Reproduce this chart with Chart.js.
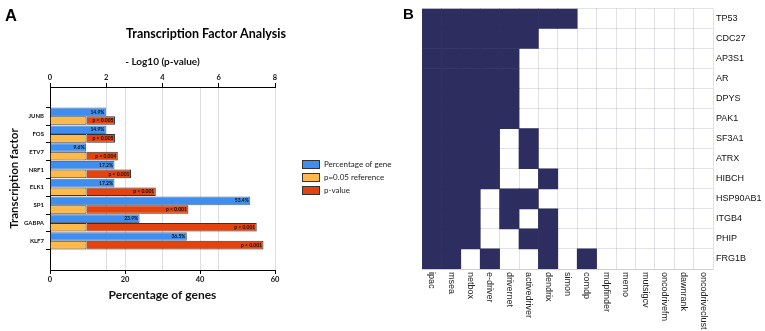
<!DOCTYPE html>
<html>
<head>
<meta charset="utf-8">
<script src="https://cdn.jsdelivr.net/npm/chart.js@4.4.1/dist/chart.umd.min.js"></script>
<style>
  body { margin: 0; background: #fff; }
  #wrap { position: relative; width: 765px; height: 331px; overflow: hidden; }
  canvas { position: absolute; top: 0; }
  #chartA { left: 0; }
  #chartB { left: 400px; }
</style>
</head>
<body>
<div id="wrap">
  <canvas id="chartA" width="400" height="331"></canvas>
  <canvas id="chartB" width="365" height="331"></canvas>
</div>
<script>
// Panel A data
const factors = ['JUNB', 'FOS', 'ETV7', 'NRF1', 'ELK1', 'SP1', 'GABPA', 'KLF7'];
const pctGenes = [14.9, 14.9, 9.6, 17.2, 17.2, 53.4, 23.9, 36.5];
const logP = [2.31, 2.31, 2.41, 2.88, 3.76, 4.92, 7.35, 7.59];
const pLabels = ['p = 0.005', 'p = 0.005', 'p = 0.004', 'p = 0.001', 'p < 0.001', 'p < 0.001', 'p < 0.001', 'p < 0.001'];
const refLogP = 1.30;
const legendNames = ['Percentage of gene', 'p=0.05 reference', 'p-value'];

// Panel B data
const tools = ['ipac', 'msea', 'netbox', 'e-driver', 'drivernet', 'activedriver', 'dendrix', 'simon',
  'comdp', 'mdpfinder', 'memo', 'mutsigcv', 'oncodrivefm', 'dawnrank', 'oncodriveclust'];
const genes = ['TP53', 'CDC27', 'AP3S1', 'AR', 'DPYS', 'PAK1', 'SF3A1', 'ATRX', 'HIBCH', 'HSP90AB1', 'ITGB4', 'PHIP', 'FRG1B'];
const hits = [
  [1,1,1,1,1,1,1,1,0,0,0,0,0,0,0],
  [1,1,1,1,1,1,0,0,0,0,0,0,0,0,0],
  [1,1,1,1,1,0,0,0,0,0,0,0,0,0,0],
  [1,1,1,1,1,0,0,0,0,0,0,0,0,0,0],
  [1,1,1,1,1,0,0,0,0,0,0,0,0,0,0],
  [1,1,1,1,1,0,0,0,0,0,0,0,0,0,0],
  [1,1,1,1,0,1,0,0,0,0,0,0,0,0,0],
  [1,1,1,1,0,1,0,0,0,0,0,0,0,0,0],
  [1,1,1,1,0,0,1,0,0,0,0,0,0,0,0],
  [1,1,1,0,1,1,0,0,0,0,0,0,0,0,0],
  [1,1,1,0,1,0,1,0,0,0,0,0,0,0,0],
  [1,1,1,0,0,1,1,0,0,0,0,0,0,0,0],
  [1,1,0,1,0,0,1,0,1,0,0,0,0,0,0]
];

const BLUE = '#3d8ef0', ORANGE = '#fdb94a', RED = '#e5430d', NAVY = '#2d2e5f';
const GRID = '#dedede';
const SANS = 'Lato';

Chart.defaults.font.family = SANS;
Chart.defaults.color = '#111';

// bar end labels, panel letter, title and legend for panel A
const decorA = {
  id: 'decorA',
  afterDatasetsDraw(chart) {
    const ctx = chart.ctx;
    ctx.save();
    ctx.font = 'bold 5px ' + SANS;
    ctx.fillStyle = '#111';
    ctx.textAlign = 'right';
    ctx.textBaseline = 'middle';
    chart.getDatasetMeta(0).data.forEach((bar, i) => ctx.fillText(pctGenes[i].toFixed(1) + '%', bar.x - 1.5, bar.y));
    chart.getDatasetMeta(2).data.forEach((bar, i) => ctx.fillText(pLabels[i], bar.x - 1.5, bar.y));
    ctx.restore();
  },
  afterDraw(chart) {
    const ctx = chart.ctx;
    ctx.save();
    ctx.fillStyle = '#000';
    ctx.textBaseline = 'alphabetic';
    ctx.font = 'bold 16.5px "Liberation Sans"';
    ctx.fillText('A', 5, 21);
    ctx.textAlign = 'center';
    ctx.textBaseline = 'middle';
    ctx.font = 'bold 12.5px ' + SANS;
    ctx.fillText('Transcription Factor Analysis', 206, 34);
    // legend
    const colors = [BLUE, ORANGE, RED];
    ctx.textAlign = 'left';
    ctx.font = '8px ' + SANS;
    legendNames.forEach((name, i) => {
      const y = 164.5 + i * 13;
      ctx.fillStyle = colors[i];
      ctx.fillRect(302.5, y - 4, 17, 8);
      ctx.strokeStyle = '#333';
      ctx.lineWidth = 1;
      ctx.strokeRect(302.5, y - 4, 17, 8);
      ctx.fillStyle = '#222';
      ctx.fillText(name, 324, y);
    });
    ctx.restore();
  }
};

new Chart(document.getElementById('chartA'), {
  type: 'bar',
  data: {
    datasets: [
      {
        label: legendNames[0],
        data: pctGenes.map((v, i) => ({ x: v, y: i })),
        xAxisID: 'x', stack: 'pct',
        backgroundColor: BLUE, borderColor: '#5a6f8a', borderWidth: 1
      },
      {
        label: legendNames[1],
        data: factors.map((f, i) => ({ x: refLogP, y: i })),
        xAxisID: 'x2', stack: 'p',
        backgroundColor: ORANGE, borderColor: '#333', borderWidth: 1
      },
      {
        label: legendNames[2],
        data: logP.map((v, i) => ({ x: [refLogP, v], y: i })),
        xAxisID: 'x2', stack: 'p',
        backgroundColor: RED, borderColor: '#333', borderWidth: 1
      }
    ]
  },
  options: {
    indexAxis: 'y',
    responsive: false,
    animation: false,
    layout: { padding: { left: 0, right: 125, top: 0, bottom: 0 } },
    categoryPercentage: 0.97,
    barPercentage: 1,
    plugins: { legend: { display: false }, tooltip: { enabled: false } },
    scales: {
      y: {
        type: 'linear', min: -1, max: 8, reverse: true, stacked: true,
        afterBuildTicks: s => { s.ticks = s.ticks.filter(t => t.value >= 0 && t.value <= 7); },
        afterFit: s => { s.width = 50; },
        ticks: { stepSize: 1, padding: 2, font: { size: 6, weight: 'bold' }, callback: v => factors[v] },
        grid: { drawOnChartArea: false, tickLength: 4, tickColor: '#000' },
        border: { color: '#000' },
        title: { display: true, text: 'Transcription factor', font: { size: 11.5, weight: 'bold' }, padding: { top: 7 } }
      },
      x: {
        type: 'linear', position: 'bottom', min: 0, max: 60, stacked: false,
        afterFit: s => { s.height = 61; },
        ticks: { stepSize: 20, padding: 1, font: { size: 7.5, weight: 'bold' } },
        grid: { color: GRID, tickLength: 4, tickColor: '#000' },
        border: { color: '#000' },
        title: { display: true, text: 'Percentage of genes', font: { size: 12, weight: 'bold' }, padding: { bottom: 28.8 } }
      },
      x2: {
        type: 'linear', position: 'top', min: 0, max: 8, stacked: false,
        afterFit: s => { s.height = 87; },
        ticks: { stepSize: 2, padding: 1, font: { size: 7.5, weight: 'bold' } },
        grid: { color: GRID, tickLength: 4, tickColor: '#000' },
        border: { color: '#000' },
        title: { display: true, text: '- Log10 (p-value)', font: { size: 10, weight: 'bold' }, padding: { top: 56 } }
      }
    }
  },
  plugins: [decorA]
});

// rotated column labels and panel letter for panel B
const decorB = {
  id: 'decorB',
  afterDraw(chart) {
    const ctx = chart.ctx;
    const xs = chart.scales.x;
    ctx.save();
    ctx.fillStyle = '#000';
    ctx.font = 'bold 15px "Liberation Sans"';
    ctx.textBaseline = 'alphabetic';
    ctx.fillText('B', 3, 19);
    ctx.font = '9px "Liberation Sans"';
    ctx.fillStyle = '#222';
    ctx.textAlign = 'left';
    ctx.textBaseline = 'middle';
    tools.forEach((t, i) => {
      ctx.save();
      ctx.translate(xs.getPixelForTick(i), chart.chartArea.bottom + 3);
      ctx.rotate(Math.PI / 2);
      ctx.fillText(t, 0, 0);
      ctx.restore();
    });
    ctx.restore();
  }
};

new Chart(document.getElementById('chartB'), {
  type: 'bar',
  data: {
    labels: tools,
    datasets: genes.map((g, r) => ({
      label: g,
      data: hits[r].map(h => (h ? [r, r + 1] : null)),
      yAxisID: 'y',
      grouped: false,
      barPercentage: 1,
      categoryPercentage: 1,
      backgroundColor: NAVY,
      borderWidth: 0
    }))
  },
  options: {
    responsive: false,
    animation: false,
    layout: { padding: { left: 22, right: 0, top: 1.5, bottom: 0 } },
    plugins: { legend: { display: false }, tooltip: { enabled: false } },
    scales: {
      x: {
        type: 'category', offset: true, z: 1,
        afterFit: s => { s.height = 62; },
        ticks: { display: false },
        grid: { offset: true, color: 'rgba(170,170,190,0.35)', drawTicks: false },
        border: { color: 'rgba(170,170,190,0.35)' }
      },
      y: {
        type: 'linear', min: 0, max: 13, reverse: true, z: 1,
        afterFit: s => { s.width = 0; },
        ticks: { display: false, stepSize: 1 },
        grid: { color: 'rgba(170,170,190,0.35)', drawTicks: false },
        border: { color: 'rgba(170,170,190,0.35)' }
      },
      yl: {
        type: 'category', labels: genes, position: 'right', offset: true,
        afterFit: s => { s.width = 52; },
        ticks: { padding: 3, color: '#111', font: { family: 'Liberation Sans', size: 9 } },
        grid: { display: false, drawTicks: false },
        border: { display: false }
      }
    }
  },
  plugins: [decorB]
});
</script>
</body>
</html>
